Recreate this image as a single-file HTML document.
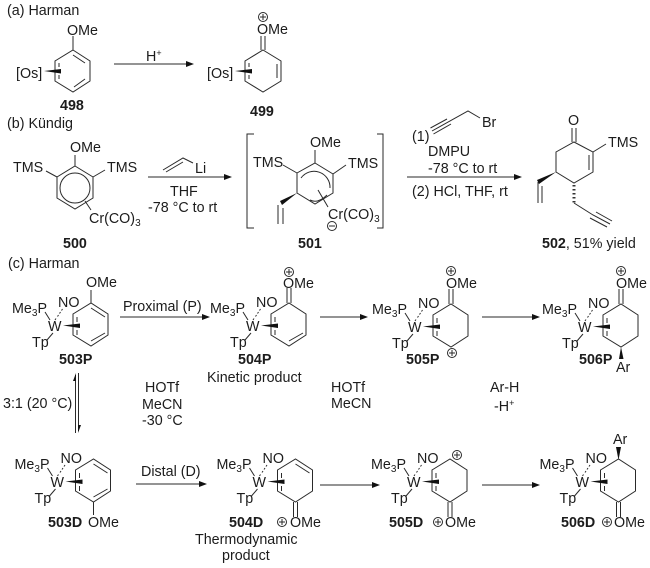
<!DOCTYPE html>
<html><head><meta charset="utf-8"><style>
html,body{margin:0;padding:0;background:#fff}
svg{display:block}
text{font-family:"Liberation Sans",sans-serif;font-size:14.3px;fill:#1c1c1c}
.b{font-weight:bold}
.l{stroke:#2a2a2a;stroke-width:1;fill:none}
.f{fill:#111;stroke:none}
.p{font-size:9px}
</style></head><body>
<svg width="650" height="568" viewBox="0 0 650 568" xmlns="http://www.w3.org/2000/svg">
<!-- (a) -->
<text x="7" y="15">(a) Harman</text>
<path class="l" d="M73 50L90 61V81L73 92L55 81V61ZM73 50V36M73 55L85 63M85 79L74 87M59 63V67M59 75V79"/>
<path class="f" d="M44 71L61 69V73.5Z"/>
<text x="67" y="35">OMe</text><text x="16" y="78">[Os]</text>
<text class="b" x="60" y="110">498</text>
<path class="l" d="M114 64H188"/><path class="f" d="M194 64L186 61V67Z"/>
<text x="146" y="61">H<tspan font-size="9" dy="-5">+</tspan></text>
<path class="l" d="M261 36V50M265 36V50M263 50L281 61V81L263 92L245 81V61ZM277 64V78M249 63V67M249 75V79"/>
<path class="f" d="M235 71L252 69V73.5Z"/>
<text x="257" y="34">OMe</text><text x="207" y="78">[Os]</text>
<circle class="l" cx="263" cy="17" r="4.5"/><path class="l" d="M260 17h6M263 14v6"/>
<text class="b" x="250" y="116">499</text>

<!-- (b) -->
<text x="7" y="128">(b) Kündig</text>
<path class="l" d="M75 166L93 177V198L75 209L57 198V177ZM75 166V155M57 177L46 171M93 177L105 170M85 201L91 210"/>
<circle class="l" cx="75" cy="188" r="15"/>
<text x="70" y="152">OMe</text><text x="13" y="172">TMS</text><text x="107" y="172">TMS</text>
<text x="89" y="223">Cr(CO)<tspan font-size="10" dy="3">3</tspan></text>
<text class="b" x="63" y="248">500</text>
<path class="l" d="M148 177H226"/><path class="f" d="M232 177L224 174V180Z"/>
<path class="l" d="M163 170L183 158L193 163M166 172L183 162"/>
<text x="195" y="173">Li</text><text x="170" y="196">THF</text><text x="148" y="212">-78 °C to rt</text>
<path class="l" d="M254 134H247V228H254M377 134H383V228H377"/>
<path class="l" d="M315 163L333 174V193L315 204L297 193V173ZM315 163V150M297 173L283 165M333 174L346 165M318 190L328 207"/>
<path class="l" d="M301 178A16 16 0 0 1 330 188M310 200Q318 204 327 195"/>
<path class="f" d="M297 193L280 201L282 205Z"/>
<path class="l" d="M278 205V224M283 208V224"/>
<text x="310" y="147">OMe</text><text x="253" y="167">TMS</text><text x="348" y="168">TMS</text>
<text x="328" y="219">Cr(CO)<tspan font-size="10" dy="3">3</tspan></text>
<circle class="l" cx="332" cy="226" r="4.5"/><path class="l" d="M329 226h6"/>
<text class="b" x="298" y="248">501</text>
<path class="l" d="M407 177H516"/><path class="f" d="M522 177L514 174V180Z"/>
<text x="412" y="141">(1)</text>
<path class="l" d="M432 131L468 111L480 118M430.500 128L447 119M433.500 134L451 124"/>
<text x="482" y="127">Br</text>
<text x="428" y="156">DMPU</text><text x="428" y="173">-78 °C to rt</text><text x="412" y="196">(2) HCl, THF, rt</text>
<path class="l" d="M572 128V142M576 128V142M574 142L593 152V172L574 183L556 172V152ZM589 155V170M593 152L606 144"/>
<text x="568" y="125">O</text><text x="608" y="147">TMS</text>
<path class="f" d="M556 172L537 180L539 184Z"/>
<path class="l" d="M538 182V203M542 186V203"/>
<path class="l" d="M574 185v1.500M574 189v1.500M574 193v1.500M574 197v1.500M574 201v1.500" style="stroke-width:3;stroke:#333"/>
<path class="l" d="M574 203L593 215L610 224M596 212L612 221M590 218L607 227"/>
<text x="542" y="248"><tspan class="b">502</tspan>, 51% yield</text>

<!-- (c) -->
<text x="8" y="268">(c) Harman</text>

<!-- 503P -->
<g>
<path class="l" d="M73 314L91 303L108 314V335L91 346L73 335ZM91 303V290M91 308L105 317M105 333L91 341M77 317V322M77 330V335M45 312L50 320M53 333L47 340M55 320l1-1.500M57.500 316.500l1-1.500M59.500 313.500l1-1.500M61.500 310.500l1-1.500"/>
<path class="f" d="M63 325.500L80 323.500V328Z"/>
<text x="12" y="313">Me<tspan font-size="10" dy="3">3</tspan><tspan dy="-3">P</tspan></text><text x="58" y="307">NO</text><text x="48" y="331">W</text><text x="32" y="347">Tp</text>
</g>
<text x="86" y="287">OMe</text>
<text class="b" x="59" y="364">503P</text>
<path class="l" d="M120 317H204"/><path class="f" d="M210 317L202 314V320Z"/>
<text x="123" y="311">Proximal (P)</text>

<!-- 504P -->
<g transform="translate(198 0)">
<path class="l" d="M73 314L91 303L108 314V335L91 346L73 335ZM89 303V288M93 303V288M105 333L91 341M77 317V322M77 330V335M45 312L50 320M53 333L47 340M55 320l1-1.500M57.500 316.500l1-1.500M59.500 313.500l1-1.500M61.500 310.500l1-1.500"/>
<path class="f" d="M63 325.500L80 323.500V328Z"/>
<text x="12" y="313">Me<tspan font-size="10" dy="3">3</tspan><tspan dy="-3">P</tspan></text><text x="58" y="307">NO</text><text x="48" y="331">W</text><text x="32" y="347">Tp</text>
</g>
<text x="283" y="288">OMe</text>
<circle class="l" cx="289" cy="272" r="4.5"/><path class="l" d="M286 272h6M289 269v6"/>
<text class="b" x="238" y="364">504P</text>
<text x="207" y="382">Kinetic product</text>
<path class="l" d="M320 317H362"/><path class="f" d="M368 317L360 314V320Z"/>

<!-- 505P -->
<g transform="translate(360 1)">
<path class="l" d="M73 314L91 303L108 314V335L91 346L73 335ZM89 303V288M93 303V288M77 317V322M77 330V335M45 312L50 320M53 333L47 340M55 320l1-1.500M57.500 316.500l1-1.500M59.500 313.500l1-1.500M61.500 310.500l1-1.500"/>
<path class="f" d="M63 325.500L80 323.500V328Z"/>
<text x="12" y="313">Me<tspan font-size="10" dy="3">3</tspan><tspan dy="-3">P</tspan></text><text x="58" y="307">NO</text><text x="48" y="331">W</text><text x="32" y="347">Tp</text>
</g>
<text x="446" y="288">OMe</text>
<circle class="l" cx="451" cy="271" r="4.5"/><path class="l" d="M448 271h6M451 268v6"/>
<circle class="l" cx="452" cy="353" r="4.5"/><path class="l" d="M449 353h6M452 350v6"/>
<text class="b" x="406" y="364">505P</text>
<path class="l" d="M482 317H534"/><path class="f" d="M540 317L532 314V320Z"/>

<!-- 506P -->
<g transform="translate(530 1)">
<path class="l" d="M73 314L91 303L108 314V335L91 346L73 335ZM89 303V288M93 303V288M77 317V322M77 330V335M45 312L50 320M53 333L47 340M55 320l1-1.500M57.500 316.500l1-1.500M59.500 313.500l1-1.500M61.500 310.500l1-1.500"/>
<path class="f" d="M63 325.500L80 323.500V328Z"/>
<text x="12" y="313">Me<tspan font-size="10" dy="3">3</tspan><tspan dy="-3">P</tspan></text><text x="58" y="307">NO</text><text x="48" y="331">W</text><text x="32" y="347">Tp</text>
</g>
<text x="616" y="288">OMe</text>
<circle class="l" cx="621" cy="271" r="4.5"/><path class="l" d="M618 271h6M621 268v6"/>
<path class="f" d="M621 347L619 359H623.500Z"/>
<text x="616" y="372">Ar</text>
<text class="b" x="579" y="364">506P</text>

<!-- mid labels -->
<text x="145" y="392">HOTf</text><text x="142" y="409">MeCN</text><text x="142" y="425">-30 °C</text>
<text x="331" y="392">HOTf</text><text x="331" y="408">MeCN</text>
<text x="490" y="392">Ar-H</text>
<text x="494" y="411">-H<tspan font-size="9" dy="-5">+</tspan></text>
<text x="3" y="408">3:1 (20 °C)</text>
<path class="l" d="M75.500 375V433M78.500 373V431"/>
<path class="f" d="M76 373L73 381H76ZM78 433L81 425H78Z"/>

<!-- 503D -->
<g transform="translate(2.500 156)">
<path class="l" d="M73 314L91 303L108 314V335L91 346L73 335ZM91 346V359M91 308L105 317M105 333L91 341M77 317V322M77 330V335M45 312L50 320M53 333L47 340M55 320l1-1.500M57.500 316.500l1-1.500M59.500 313.500l1-1.500M61.500 310.500l1-1.500"/>
<path class="f" d="M63 325.500L80 323.500V328Z"/>
<text x="12" y="313">Me<tspan font-size="10" dy="3">3</tspan><tspan dy="-3">P</tspan></text><text x="58" y="307">NO</text><text x="48" y="331">W</text><text x="32" y="347">Tp</text>
</g>
<text x="88" y="527">OMe</text>
<text class="b" x="48" y="527">503D</text>
<path class="l" d="M136 484H201"/><path class="f" d="M207 484L199 481V487Z"/>
<text x="141" y="476">Distal (D)</text>

<!-- 504D -->
<g transform="translate(204.500 156)">
<path class="l" d="M73 314L91 303L108 314V335L91 346L73 335ZM89 346V361M93 346V361M91 308L105 317M77 317V322M77 330V335M45 312L50 320M53 333L47 340M55 320l1-1.500M57.500 316.500l1-1.500M59.500 313.500l1-1.500M61.500 310.500l1-1.500"/>
<path class="f" d="M63 325.500L80 323.500V328Z"/>
<text x="12" y="313">Me<tspan font-size="10" dy="3">3</tspan><tspan dy="-3">P</tspan></text><text x="58" y="307">NO</text><text x="48" y="331">W</text><text x="32" y="347">Tp</text>
</g>
<text class="b" x="229" y="527">504D</text>
<circle class="l" cx="282" cy="522" r="4.5"/><path class="l" d="M279 522h6M282 519v6"/>
<text x="290" y="527">OMe</text>
<text x="195" y="544">Thermodynamic</text><text x="222" y="560">product</text>
<path class="l" d="M320 485H374"/><path class="f" d="M380 485L372 482V488Z"/>

<!-- 505D -->
<g transform="translate(359 156)">
<path class="l" d="M73 314L91 303L108 314V335L91 346L73 335ZM89 346V361M93 346V361M77 317V322M77 330V335M45 312L50 320M53 333L47 340M55 320l1-1.500M57.500 316.500l1-1.500M59.500 313.500l1-1.500M61.500 310.500l1-1.500"/>
<path class="f" d="M63 325.500L80 323.500V328Z"/>
<text x="12" y="313">Me<tspan font-size="10" dy="3">3</tspan><tspan dy="-3">P</tspan></text><text x="58" y="307">NO</text><text x="48" y="331">W</text><text x="32" y="347">Tp</text>
</g>
<circle class="l" cx="457" cy="455" r="4.500"/><path class="l" d="M454 455h6M457 452v6"/>
<text class="b" x="389" y="527">505D</text>
<circle class="l" cx="438" cy="522" r="4.500"/><path class="l" d="M435 522h6M438 519v6"/>
<text x="445" y="527">OMe</text>
<path class="l" d="M482 485H534"/><path class="f" d="M540 485L532 482V488Z"/>

<!-- 506D -->
<g transform="translate(527.500 156)">
<path class="l" d="M73 314L91 303L108 314V335L91 346L73 335ZM89 346V361M93 346V361M77 317V322M77 330V335M45 312L50 320M53 333L47 340M55 320l1-1.500M57.500 316.500l1-1.500M59.500 313.500l1-1.500M61.500 310.500l1-1.500"/>
<path class="f" d="M63 325.500L80 323.500V328Z"/>
<text x="12" y="313">Me<tspan font-size="10" dy="3">3</tspan><tspan dy="-3">P</tspan></text><text x="58" y="307">NO</text><text x="48" y="331">W</text><text x="32" y="347">Tp</text>
</g>
<path class="f" d="M618.500 460L616 447H621Z"/>
<text x="613" y="444">Ar</text>
<text class="b" x="561" y="527">506D</text>
<circle class="l" cx="607" cy="522" r="4.500"/><path class="l" d="M604 522h6M607 519v6"/>
<text x="614" y="527">OMe</text>
</svg>
</body></html>
